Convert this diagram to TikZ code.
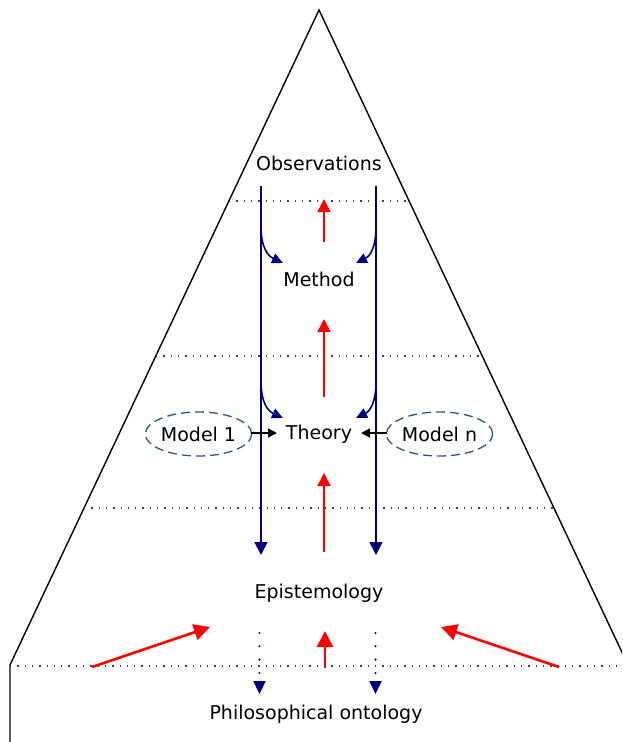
\documentclass[tikz,border=0pt]{standalone}
\usepackage{fontspec}
\setmainfont{DejaVu Sans}
\usetikzlibrary{arrows.meta,shapes.geometric}
\definecolor{navyc}{RGB}{0,0,128}
\definecolor{modelc}{RGB}{46,84,130}
\tikzset{
  lbl/.style={font=\fontsize{19}{23}\selectfont, inner sep=1pt},
  level/.style={draw=black!75, line width=1.3pt, dash pattern=on 1.3pt off 6pt},
  bluearr/.style={draw=navyc, line width=1.8pt, -{Triangle[length=13pt,width=13pt]}},
  bluecurve/.style={draw=navyc, line width=1.6pt, -{Triangle[length=11pt,width=10pt]}},
  bluedot/.style={draw=navyc, line width=2.3pt, line cap=round, dash pattern=on 0pt off 13.3pt, -{Triangle[length=13pt,width=12pt]}},
  redarr/.style={draw=red, line width=1.6pt, -{Triangle[length=13pt,width=13pt]}},
  redbig/.style={draw=red, line width=2.6pt, -{Triangle[length=16pt,width=16pt]}},
  blackarr/.style={draw=black, line width=1.4pt, -{Triangle[length=9pt,width=9pt]}},
  modelbox/.style={ellipse, draw=modelc, line width=1.3pt, dash pattern=on 9pt off 5pt, minimum width=105pt, minimum height=44pt, inner sep=0pt, font=\fontsize{19}{23}\selectfont}
}
\begin{document}
\begin{tikzpicture}[x=1pt,y=-1pt]
\useasboundingbox (0,0) rectangle (622,742);
\clip (0,0) rectangle (622,742);
% triangle
\draw[line width=1.4pt] (10,745) -- (10,665) -- (319,10) -- (628,665) -- (628,745);
% level lines
\draw[level] (229,201) -- (409,201);
\draw[level] (156,356) -- (482,356);
\draw[level] (84,508) -- (554,508);
\draw[level] (10,666) -- (622,666);
% labels
\node[lbl] (obs) at (319,163) {Observations};
\node[lbl] (meth) at (319,279) {Method};
\node[lbl] (theo) at (319,434) {Theory};
\node[lbl] (epi) at (319,593) {Epistemology};
\node[lbl] (ont) at (316,714) {Philosophical ontology};
\node[modelbox] (m1) at (198.5,434) {Model 1};
\node[modelbox] (mn) at (439.5,434) {Model n};
% coordinates
\coordinate (lt) at (261,186);
\coordinate (lb) at (261,555);
\coordinate (rt) at (376,186);
\coordinate (rb) at (376,555);
\coordinate (lc1) at (261,226);
\coordinate (lc2) at (261,381);
\coordinate (rc1) at (376,226);
\coordinate (rc2) at (376,381);
\coordinate (lm) at (283,263);
\coordinate (rm) at (356,263);
\coordinate (lth) at (283,418);
\coordinate (rth) at (356,418);
\coordinate (m1e) at (251,433);
\coordinate (thw) at (277,433);
\coordinate (mnw) at (387,433);
\coordinate (the) at (361,433);
% blue verticals
\draw[bluearr] (lt) -- (lb);
\draw[bluearr] (rt) -- (rb);
% curved arrows
\draw[bluecurve] (lc1) .. controls (261,248) and (268,256) .. (lm);
\draw[bluecurve] (rc1) .. controls (376,248) and (370,256) .. (rm);
\draw[bluecurve] (lc2) .. controls (261,403) and (268,411) .. (lth);
\draw[bluecurve] (rc2) .. controls (376,403) and (370,411) .. (rth);
% model arrows
\draw[blackarr] (m1e) -- (thw);
\draw[blackarr] (mnw) -- (the);
% red arrows
\coordinate (r1a) at (324,242); \coordinate (r1b) at (324,199);
\coordinate (r2a) at (324,397); \coordinate (r2b) at (324,319);
\coordinate (r3a) at (324,552); \coordinate (r3b) at (324,473);
\coordinate (r4a) at (325,668); \coordinate (r4b) at (325,631);
\coordinate (d1a) at (92,667); \coordinate (d1b) at (210,627);
\coordinate (d2a) at (559,667); \coordinate (d2b) at (441,627);
\draw[redarr] (r1a) -- (r1b);
\draw[redarr] (r2a) -- (r2b);
\draw[redarr] (r3a) -- (r3b);
\draw[redbig] (r4a) -- (r4b);
\draw[redbig] (d1a) -- (d1b);
\draw[redbig] (d2a) -- (d2b);
% dotted blue arrows
\coordinate (bd1a) at (259.5,633); \coordinate (bd1b) at (259.5,694);
\coordinate (bd2a) at (375.5,633); \coordinate (bd2b) at (375.5,694);
\draw[bluedot] (bd1a) -- (bd1b);
\draw[bluedot] (bd2a) -- (bd2b);
\end{tikzpicture}
\end{document}
